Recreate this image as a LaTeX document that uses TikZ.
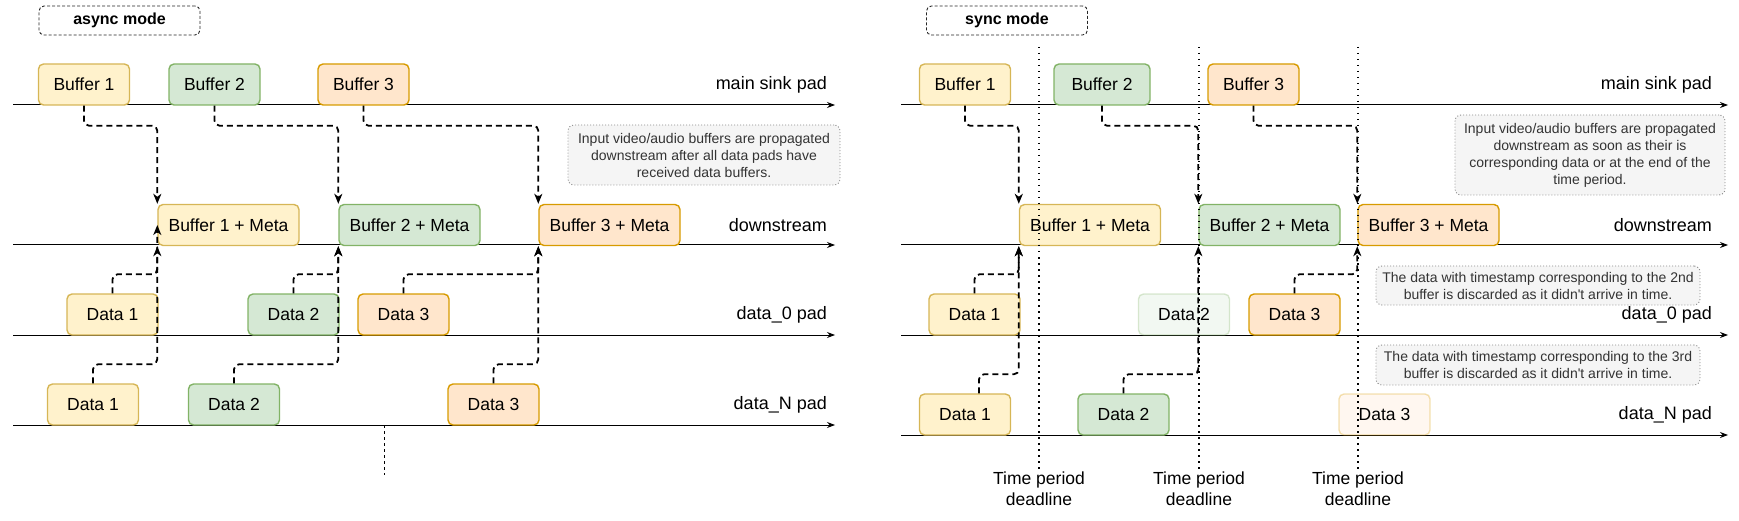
\documentclass[tikz,border=0pt]{standalone}
\usepackage{fontspec}
\setmainfont{Liberation Sans}
\usetikzlibrary{arrows.meta}

\definecolor{ylwfill}{HTML}{FFF2CC}
\definecolor{ylwline}{HTML}{D6B656}
\definecolor{grnfill}{HTML}{D5E8D4}
\definecolor{grnline}{HTML}{82B366}
\definecolor{orgfill}{HTML}{FFE6CC}
\definecolor{orgline}{HTML}{D79B00}
\definecolor{notefill}{HTML}{F5F5F5}
\definecolor{noteline}{HTML}{8C8C8C}
\definecolor{notetext}{HTML}{333333}

\tikzset{
  pkt/.style={rounded corners=5pt, line width=1.4pt, minimum width=91pt,
    minimum height=41pt, inner sep=0pt, font=\fontsize{17.5}{21}\selectfont},
  ybox/.style={pkt, draw=ylwline, fill=ylwfill},
  gbox/.style={pkt, draw=grnline, fill=grnfill},
  obox/.style={pkt, draw=orgline, fill=orgfill},
  meta/.style={minimum width=141pt},
  faded/.style={draw opacity=0.3, fill opacity=0.3, text opacity=1},
  note/.style={rounded corners=6pt, draw=noteline, line width=0.9pt,
    dash pattern=on 1pt off 2pt, fill=notefill, text=notetext, align=center,
    inner sep=0pt, font=\fontsize{14}{17}\selectfont},
  mode/.style={rounded corners=5pt, draw=black!85, line width=0.9pt,
    dash pattern=on 3pt off 2pt, minimum width=161pt, minimum height=29pt,
    font=\fontsize{16}{19}\bfseries},
  padlabel/.style={anchor=east, inner sep=0pt, font=\fontsize{18}{21}\selectfont},
  tlabel/.style={align=center, inner sep=2pt, font=\fontsize{17.5}{21}\selectfont},
  axis/.style={line width=1pt, -{Stealth[length=8pt,width=6pt]}},
  conn/.style={line width=1.8pt, dash pattern=on 6pt off 4pt, rounded corners=5pt,
    -{Stealth[length=10pt,width=8pt,inset=3pt]}},
  deadline/.style={line width=1.5pt, dash pattern=on 1.5pt off 4.5pt}
}

\begin{document}
\begin{tikzpicture}[x=1pt, y=-1pt]
  \useasboundingbox (0,0) rectangle (1739,521);

  \node[mode] (amode) at (119.5,20.5) {async mode};
  \foreach \y/\t [count=\i] in {105/main sink pad,245/downstream,335/data\_0 pad,425/data\_N pad}{
    \draw[axis] (13,\y) -- (835,\y);
    \node[padlabel] (lpad\i) at (827,\y-20) {\t};
  }
  \draw[line width=0.8pt, dash pattern=on 3pt off 3pt] (384,425) -- (384,475);

  \node[ybox] (b1) at (84,84.5) {Buffer 1};
  \node[gbox] (b2) at (214.5,84.5) {Buffer 2};
  \node[obox] (b3) at (363.5,84.5) {Buffer 3};
  \node[ybox, meta] (bm1) at (228.5,225) {Buffer 1 + Meta};
  \node[gbox, meta] (bm2) at (409.5,225) {Buffer 2 + Meta};
  \node[obox, meta] (bm3) at (609.5,225) {Buffer 3 + Meta};
  \node[ybox] (d1) at (112.5,314.5) {Data 1};
  \node[gbox] (d2) at (293.5,314.5) {Data 2};
  \node[obox] (d3) at (403.5,314.5) {Data 3};
  \node[ybox] (n1) at (93,404.5) {Data 1};
  \node[gbox] (n2) at (234,404.5) {Data 2};
  \node[obox] (n3) at (493.5,404.5) {Data 3};
  \node[note, minimum width=272pt, minimum height=60pt] (anote) at (704,155)
    {Input video/audio buffers are propagated\\downstream after all data pads have\\received data buffers.};

  \draw[conn] (b1.south) -- ++(0,20) -| (bm1.north west);
  \draw[conn] (b2.south) -- ++(0,20) -| (bm2.north west);
  \draw[conn] (b3.south) -- ++(0,20) -| (bm3.north west);
  \draw[conn] (d1.north) -- ++(0,-19) -| (bm1.south west);
  \draw[conn] (d2.north) -- ++(0,-19) -| (bm2.south west);
  \draw[conn] (d3.north) -- ++(0,-19) -| (bm3.south west);
  \draw[conn] (n1.north) -- ++(0,-19) -| (bm1.west);
  \draw[conn] (n2.north) -- ++(0,-19) -| (bm2.south west);
  \draw[conn] (n3.north) -- ++(0,-19) -| (bm3.south west);

  \node[mode] (smode) at (1007,20.5) {sync mode};
  \foreach \y/\t [count=\i] in {105/main sink pad,245/downstream,335/data\_0 pad,435/data\_N pad}{
    \draw[axis] (901,\y) -- (1728,\y);
    \node[padlabel] (rpad\i) at (1712,\y-20) {\t};
  }

  \node[ybox] (b1r) at (965,84.5) {Buffer 1};
  \node[gbox, minimum width=96pt] (b2r) at (1102,84.5) {Buffer 2};
  \node[obox] (b3r) at (1253.5,84.5) {Buffer 3};
  \node[ybox, meta] (bm1r) at (1090,225) {Buffer 1 + Meta};
  \node[gbox, meta] (bm2r) at (1269.5,225) {Buffer 2 + Meta};
  \node[obox, meta] (bm3r) at (1428.5,225) {Buffer 3 + Meta};
  \node[ybox] (d1r) at (974.5,314.5) {Data 1};
  \node[gbox, faded] (d2r) at (1184,314.5) {Data 2};
  \node[obox] (d3r) at (1294.5,314.5) {Data 3};
  \node[ybox] (n1r) at (965,414.5) {Data 1};
  \node[gbox] (n2r) at (1123.5,414.5) {Data 2};
  \node[obox, faded] (n3r) at (1384.5,414.5) {Data 3};
  \node[note, minimum width=270pt, minimum height=80pt] (snote) at (1590,155)
    {Input video/audio buffers are propagated\\downstream as soon as their is\\corresponding data or at the end of the\\time period.};
  \node[note, minimum width=324pt, minimum height=39pt] (dnote2) at (1538,285.5)
    {The data with timestamp corresponding to the 2nd\\buffer is discarded as it didn\textquotesingle t arrive in time.};
  \node[note, minimum width=324pt, minimum height=40pt] (dnote3) at (1538,365)
    {The data with timestamp corresponding to the 3rd\\buffer is discarded as it didn\textquotesingle t arrive in time.};

  \foreach \i/\x in {1/1039,2/1199,3/1358}{
    \node[tlabel] (tp\i) at (\x,489) {Time period\\deadline};
    \draw[deadline] (\x,47) -- (tp\i.north);
  }

  \draw[conn] (b1r.south) -- ++(0,20) -| (bm1r.north west);
  \draw[conn] (b2r.south) -- ++(0,20) -| (bm2r.north west);
  \draw[conn] (b3r.south) -- ++(0,20) -| (bm3r.north west);
  \draw[conn] (d1r.north) -- ++(0,-19) -| (bm1r.south west);
  \draw[conn] (d3r.north) -- ++(0,-19) -| (bm3r.south west);
  \draw[conn] ([xshift=14pt]n1r.north) -- ++(0,-19) -| (bm1r.south west);
  \draw[conn] (n2r.north) -- ++(0,-19) -| (bm2r.south west);
\end{tikzpicture}
\end{document}
